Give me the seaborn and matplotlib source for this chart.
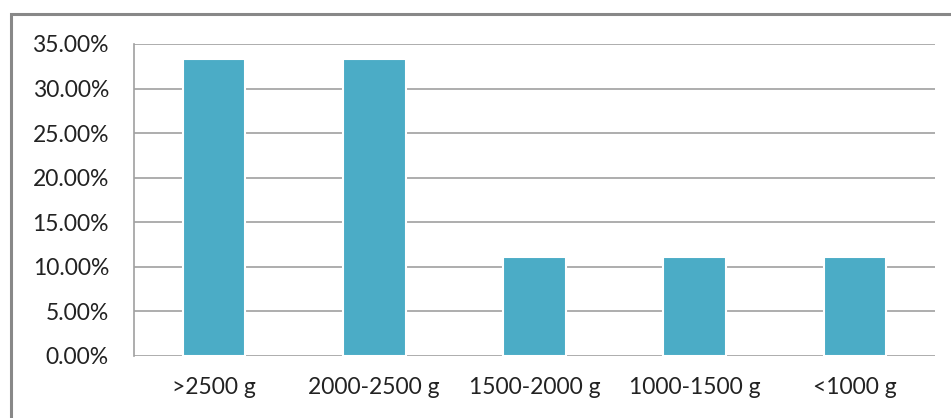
import numpy as np
import pandas as pd
import seaborn as sns
import matplotlib.pyplot as plt
from matplotlib.patches import Rectangle
from matplotlib.ticker import FuncFormatter, MultipleLocator

# --- data ---
categories = [">2500 g", "2000-2500 g", "1500-2000 g", "1000-1500 g", "<1000 g"]
shares = [33.33, 33.33, 11.11, 11.11, 11.11]  # percent

df = pd.DataFrame({"weight": categories, "share": shares})

sns.set_theme(style="white")
plt.rcParams["font.family"] = ["Lato", "DejaVu Sans"]

fig = plt.figure(figsize=(9.51, 4.18), dpi=100)
ax = fig.add_axes([134 / 951, 1 - 356 / 418, (935 - 134) / 951, (356 - 44) / 418])

sns.barplot(data=df, x="weight", y="share", color="#4BACC6", saturation=1,
            width=0.39, edgecolor="white", linewidth=1.5, ax=ax, zorder=3)

ax.set_ylim(0, 35)
ax.set_xlim(-0.5, len(categories) - 0.5)
ax.yaxis.set_major_locator(MultipleLocator(5))
ax.yaxis.set_major_formatter(FuncFormatter(lambda v, _: f"{v:.2f}%"))
ax.grid(axis="y", color="#a0a0a0", linewidth=1.2, zorder=0)
ax.set_axisbelow(True)
ax.set_xlabel("")
ax.set_ylabel("")

for side in ["top", "right", "bottom"]:
    ax.spines[side].set_visible(False)
ax.spines["left"].set_color("#a0a0a0")
ax.spines["left"].set_linewidth(1.2)

ax.tick_params(axis="y", length=0, pad=18, labelsize=16.5, labelcolor="#222222")
ax.tick_params(axis="x", length=0, pad=15, labelsize=16.5, labelcolor="#222222")

# outer chart border (cut off at right and bottom in the reference)
fig.patches.append(Rectangle((11 / 951, -0.1), 1.2, (418 - 14) / 418 + 0.1,
                             transform=fig.transFigure, fill=False,
                             edgecolor="#888888", linewidth=2.2))

plt.savefig("out.png", dpi=100)
